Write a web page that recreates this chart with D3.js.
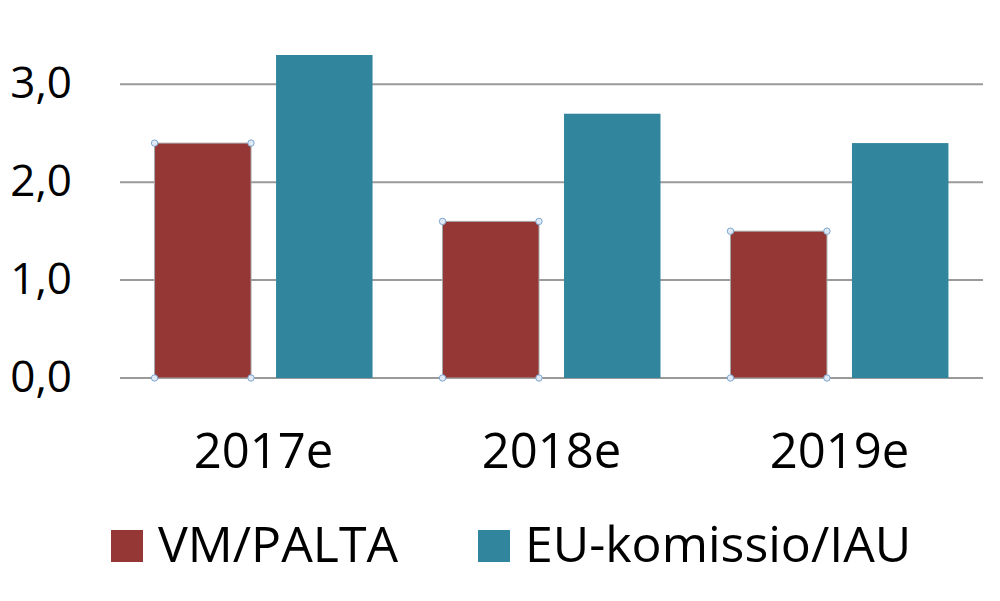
<!DOCTYPE html>
<html lang="fi">
<head>
  <meta charset="UTF-8">
  <title>VM/PALTA vs EU-komissio/IAU</title>
  <script src="https://d3js.org/d3.v7.min.js"></script>
  <style>
    body { margin: 0; background: #fff; }
    svg { display: block; font-family: "Open Sans", "Noto Sans", sans-serif; }
  </style>
</head>
<body>
  <script>
    const years = ["2017e", "2018e", "2019e"];
    const seriesNames = ["VM/PALTA", "EU-komissio/IAU"];
    const vmPalta = [2.4, 1.6, 1.5];
    const euKomissio = [3.3, 2.7, 2.4];
    const yTicks = [0, 1, 2, 3];
    const colors = ["#953735", "#31859c"];

    const width = 1000, height = 601;
    const margin = { top: 55, right: 17, bottom: 223, left: 120 };

    const svg = d3.select("body").append("svg")
      .attr("width", width)
      .attr("height", height);

    const x0 = d3.scaleBand().domain(years)
      .range([margin.left, width - margin.right])
      .paddingInner(0.243).paddingOuter(0.12);
    const x1 = d3.scaleBand().domain(seriesNames)
      .range([0, x0.bandwidth()]).paddingInner(0.206);
    const y = d3.scaleLinear().domain([0, 3.3])
      .range([height - margin.bottom, margin.top]);

    const fmt = d => d3.format(".1f")(d).replace(".", ",");

    // gridlines
    svg.append("g").selectAll("line").data(yTicks).join("line")
      .attr("x1", margin.left).attr("x2", width - margin.right)
      .attr("y1", d => y(d)).attr("y2", d => y(d))
      .attr("stroke", "#9a9a9a").attr("stroke-width", 2);

    // y labels
    svg.append("g").selectAll("text").data(yTicks).join("text")
      .attr("x", 72).attr("y", d => y(d) + 14)
      .attr("text-anchor", "end")
      .attr("font-size", 44)
      .text(fmt);

    const rows = years.map((yr, i) => ({ yr, vals: [vmPalta[i], euKomissio[i]] }));

    const groups = svg.append("g").selectAll("g").data(rows).join("g")
      .attr("transform", d => `translate(${x0(d.yr)},0)`);

    groups.selectAll("rect").data(d => d.vals.map((v, k) => ({ v, k }))).join("rect")
      .attr("x", d => x1(seriesNames[d.k]))
      .attr("width", x1.bandwidth())
      .attr("y", d => y(d.v))
      .attr("height", d => y(0) - y(d.v))
      .attr("fill", d => colors[d.k])
      .attr("stroke", d => d.k === 0 ? "#a6a6a6" : "none")
      .attr("stroke-width", 1);

    // selection handles on the first series
    groups.each(function (d) {
      const g = d3.select(this);
      const xl = x1(seriesNames[0]), xr = xl + x1.bandwidth();
      const yt = y(d.vals[0]), yb = y(0);
      const pts = [[xl, yt], [xr, yt], [xl, yb], [xr, yb]];
      g.selectAll("circle").data(pts).join("circle")
        .attr("cx", p => p[0]).attr("cy", p => p[1]).attr("r", 3.2)
        .attr("fill", "#dfeaf6").attr("stroke", "#7ea6cf").attr("stroke-width", 1);
    });

    // x labels
    svg.append("g").selectAll("text").data(years).join("text")
      .attr("x", d => x0(d) + x0.bandwidth() / 2)
      .attr("y", 468)
      .attr("text-anchor", "middle")
      .attr("font-size", 49)
      .text(d => d);

    // legend
    const legendX = [111, 478];
    const legend = svg.append("g").selectAll("g").data(seriesNames).join("g")
      .attr("transform", (d, i) => `translate(${legendX[i]},530)`);
    legend.append("rect")
      .attr("width", 32).attr("height", 32)
      .attr("fill", (d, i) => colors[i]);
    legend.append("text")
      .attr("x", 47).attr("y", 32)
      .attr("font-size", 50)
      .text(d => d);
  </script>
</body>
</html>
